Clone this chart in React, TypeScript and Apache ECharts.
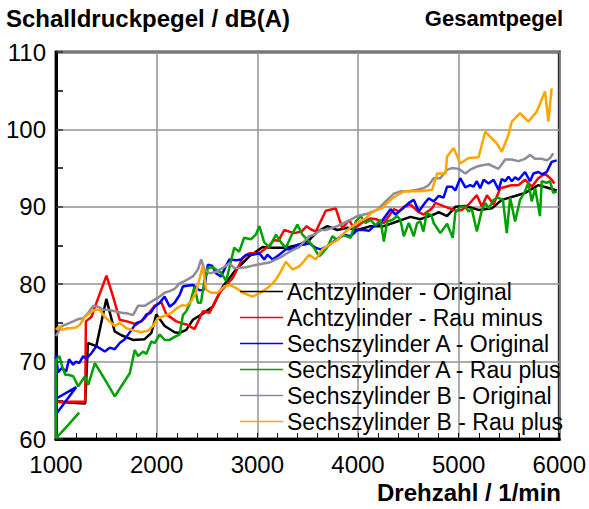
import React, { useEffect, useRef } from "react";
import * as echarts from "echarts";

const seriesNames = [
  "Achtzylinder - Original",
  "Achtzylinder - Rau minus",
  "Sechszylinder A - Original",
  "Sechszylinder A - Rau plus",
  "Sechszylinder B - Original",
  "Sechszylinder B - Rau plus",
];

const seriesColors = ["#000000", "#ff0000", "#0000ff", "#00a000", "#8c8c9a", "#ffa500"];

const xTicks = [1000, 2000, 3000, 4000, 5000, 6000];
const yTicks = [60, 70, 80, 90, 100, 110];

const achtOriginal = [
  [1000, 64.8], [1290, 64.6], [1317, 72.4], [1400, 72.0], [1500, 78.1], [1583, 73.9], [1650, 73.4],
  [1765, 72.8], [1880, 72.9], [1947, 73.7], [1997, 76.1], [2080, 74.6], [2178, 73.8], [2228, 73.7],
  [2294, 74.1], [2360, 75.4], [2459, 76.2], [2558, 77.1], [2657, 79.7], [2789, 81.9], [2921, 83.6],
  [3053, 84.8], [3152, 84.7], [3284, 84.7], [3416, 85.1], [3515, 85.7], [3597, 86.8], [3696, 87.5],
  [3795, 87.0], [3894, 87.3], [3993, 87.0], [4126, 87.5], [4257, 87.5], [4389, 88.1], [4521, 88.7],
  [4620, 88.4], [4752, 89.0], [4802, 89.3], [4885, 88.8], [4967, 90.0], [5066, 90.1], [5198, 89.6],
  [5330, 89.8], [5429, 90.9], [5561, 91.4], [5660, 91.8], [5792, 92.8], [5875, 92.5], [5974, 92.1],
];

const achtRauMinus = [
  [1000, 64.8], [1290, 64.8], [1297, 75.2], [1353, 75.8], [1402, 77.6], [1501, 81.1], [1567, 78.4],
  [1633, 75.4], [1733, 75.1], [1799, 74.8], [1881, 75.6], [1980, 77.2], [2046, 77.7], [2096, 76.1],
  [2195, 75.2], [2262, 74.9], [2300, 74.8], [2376, 74.2], [2459, 76.5], [2525, 76.3], [2624, 78.9],
  [2756, 80.8], [2855, 83.4], [2921, 84.0], [3020, 84.0], [3119, 85.0], [3168, 85.7], [3210, 85.6],
  [3267, 87.0], [3366, 86.6], [3440, 86.8], [3490, 87.5], [3531, 87.1], [3581, 86.8], [3680, 89.5],
  [3779, 89.8], [3845, 87.2], [3911, 88.3], [3960, 87.2], [4059, 88.1], [4125, 88.5], [4180, 88.4],
  [4257, 87.9], [4356, 89.7], [4406, 89.4], [4455, 90.0], [4521, 90.3], [4604, 89.3], [4653, 89.0],
  [4736, 89.8], [4769, 90.5], [4870, 90.0], [4967, 89.5], [5030, 89.6], [5099, 90.3], [5181, 91.5],
  [5231, 90.0], [5281, 91.5], [5347, 90.3], [5413, 92.4], [5528, 92.8], [5594, 92.8], [5660, 93.5],
  [5726, 92.6], [5792, 93.7], [5858, 94.3], [5924, 93.5], [5951, 93.0],
];

const sechsAOriginal = [
  [1000, 65.2], [1200, 66.7], [1000, 63.2], [1000, 70.9], [1020, 68.6], [1060, 69.2], [1100, 68.7],
  [1130, 70.3], [1170, 69.6], [1200, 70.0], [1230, 69.8], [1270, 70.7], [1300, 70.4], [1353, 71.1],
  [1402, 72.0], [1484, 71.3], [1534, 71.8], [1583, 71.6], [1633, 72.4], [1683, 72.9], [1750, 74.1],
  [1799, 75.0], [1850, 75.2], [1898, 76.1], [1940, 76.3], [1980, 77.1], [2030, 77.6], [2079, 78.4],
  [2129, 77.1], [2178, 77.6], [2228, 78.6], [2261, 79.7], [2300, 79.8], [2360, 79.9], [2426, 79.2],
  [2470, 79.3], [2508, 82.5], [2550, 82.4], [2591, 81.4], [2640, 81.0], [2690, 82.4], [2723, 83.2],
  [2790, 83.1], [2840, 83.2], [2888, 83.8], [2953, 83.8], [3020, 84.0], [3069, 83.2], [3100, 83.8],
  [3152, 83.2], [3218, 83.8], [3284, 84.5], [3340, 84.5], [3399, 85.1], [3460, 85.1], [3515, 85.3],
  [3581, 84.7], [3630, 84.5], [3696, 84.9], [3779, 85.7], [3861, 86.4], [3927, 86.2], [3993, 87.0],
  [4059, 87.0], [4108, 86.9], [4158, 87.5], [4224, 87.9], [4274, 88.8], [4323, 89.7], [4373, 89.0],
  [4439, 89.7], [4505, 90.5], [4554, 90.9], [4604, 89.4], [4653, 90.3], [4703, 91.1], [4752, 90.7],
  [4802, 91.4], [4850, 91.2], [4885, 92.6], [4935, 92.6], [4967, 92.1], [5016, 93.7], [5066, 92.5],
  [5115, 92.8], [5148, 92.6], [5181, 93.3], [5214, 92.4], [5248, 93.5], [5297, 93.0], [5347, 93.5],
  [5396, 92.2], [5429, 93.6], [5462, 93.3], [5495, 93.9], [5528, 93.3], [5561, 93.8], [5594, 93.5],
  [5660, 94.5], [5709, 93.3], [5743, 94.3], [5792, 94.5], [5830, 94.2], [5875, 94.5], [5924, 95.8],
  [5974, 96.0],
];

const sechsARauPlus = [
  [1230, 63.4], [1120, 61.8], [1000, 60.1], [1000, 70.2], [1035, 70.7], [1060, 69.4], [1092, 68.3],
  [1122, 68.3], [1171, 68.1], [1221, 66.8], [1287, 68.1], [1320, 67.0], [1386, 69.8], [1485, 67.7],
  [1584, 65.5], [1683, 67.5], [1733, 68.5], [1782, 71.5], [1815, 70.7], [1864, 71.3], [1898, 71.0],
  [1947, 72.6], [1980, 72.4], [2030, 73.5], [2079, 72.8], [2129, 72.8], [2178, 73.2], [2228, 73.5],
  [2261, 76.0], [2294, 76.5], [2330, 77.5], [2376, 79.7], [2410, 77.6], [2440, 77.6], [2475, 80.5],
  [2508, 82.1], [2558, 82.2], [2600, 81.8], [2640, 81.5], [2690, 80.4], [2720, 82.0], [2770, 84.7],
  [2820, 84.2], [2869, 86.0], [2935, 85.8], [2985, 86.4], [3020, 87.5], [3069, 85.4], [3119, 84.8],
  [3186, 86.4], [3235, 85.4], [3284, 84.7], [3335, 86.2], [3398, 87.7], [3448, 86.4], [3515, 85.5],
  [3564, 84.7], [3614, 83.6], [3660, 84.2], [3700, 84.9], [3746, 86.2], [3795, 85.7], [3845, 86.4],
  [3927, 86.0], [3977, 88.1], [4026, 88.8], [4075, 87.9], [4125, 88.3], [4175, 87.6], [4224, 88.3],
  [4257, 85.5], [4290, 88.1], [4340, 88.3], [4389, 88.8], [4422, 88.3], [4455, 86.2], [4505, 87.9],
  [4554, 86.2], [4587, 87.9], [4620, 88.1], [4650, 86.8], [4683, 89.2], [4730, 88.9], [4752, 87.9],
  [4818, 86.6], [4885, 87.8], [4941, 86.0], [4967, 89.2], [5016, 90.0], [5066, 90.0], [5099, 89.4],
  [5131, 89.7], [5181, 86.8], [5231, 89.6], [5265, 90.5], [5300, 89.8], [5347, 90.9], [5390, 91.2],
  [5440, 90.9], [5478, 86.6], [5511, 91.2], [5561, 88.1], [5610, 90.9], [5660, 92.0], [5693, 93.1],
  [5726, 90.7], [5760, 92.4], [5808, 88.8], [5825, 93.3], [5875, 93.1], [5908, 93.3], [5940, 91.8],
  [5974, 92.0],
];

const sechsBOriginal = [
  [1000, 73.3], [1030, 74.0], [1060, 74.6], [1100, 74.8], [1171, 75.2], [1221, 75.5], [1270, 75.6],
  [1320, 76.3], [1370, 77.2], [1418, 77.1], [1468, 76.7], [1517, 76.7], [1584, 76.5], [1650, 76.3],
  [1716, 76.2], [1765, 76.0], [1815, 77.2], [1881, 77.2], [1930, 77.6], [1980, 78.0], [2030, 78.4],
  [2079, 78.9], [2129, 79.1], [2178, 79.4], [2228, 80.1], [2277, 80.4], [2360, 81.0], [2410, 81.9],
  [2442, 83.2], [2475, 81.9], [2525, 81.4], [2591, 81.6], [2657, 82.1], [2723, 82.7], [2770, 82.1],
  [2822, 82.1], [2888, 82.2], [2953, 82.4], [3035, 82.6], [3119, 82.8], [3186, 83.2], [3235, 83.5],
  [3284, 83.9], [3350, 84.4], [3416, 84.8], [3465, 85.5], [3515, 86.2], [3564, 86.4], [3630, 87.0],
  [3680, 87.0], [3795, 87.5], [3894, 88.1], [3993, 88.8], [4092, 89.1], [4191, 89.6], [4290, 90.9],
  [4356, 91.7], [4422, 92.0], [4505, 92.0], [4587, 92.2], [4650, 92.4], [4703, 92.8], [4752, 93.7],
  [4818, 93.7], [4885, 94.8], [4935, 95.0], [5000, 94.9], [5066, 94.3], [5115, 94.8], [5181, 95.2],
  [5247, 95.4], [5297, 95.5], [5347, 95.2], [5396, 94.9], [5462, 96.1], [5528, 96.1], [5594, 95.9],
  [5660, 96.2], [5709, 96.7], [5758, 96.2], [5825, 96.2], [5875, 96.0], [5908, 96.3], [5940, 96.9],
];

const sechsBRauPlus = [
  [1000, 74.1], [1033, 74.6], [1066, 74.1], [1110, 74.3], [1150, 74.3], [1200, 74.4], [1240, 74.8],
  [1287, 75.8], [1336, 76.3], [1386, 76.7], [1435, 76.7], [1484, 75.8], [1534, 75.2], [1584, 74.6],
  [1633, 75.0], [1699, 74.3], [1780, 74.0], [1847, 73.8], [1914, 74.0], [1963, 74.6], [2012, 75.6],
  [2079, 75.9], [2145, 76.3], [2211, 77.0], [2260, 77.3], [2294, 77.2], [2343, 77.8], [2390, 78.9],
  [2424, 80.6], [2459, 82.4], [2490, 79.3], [2541, 78.9], [2607, 78.9], [2670, 79.7], [2723, 79.9],
  [2789, 79.5], [2855, 78.9], [2953, 78.4], [3035, 78.9], [3119, 79.7], [3186, 80.6], [3235, 81.7],
  [3284, 82.9], [3350, 81.9], [3416, 82.3], [3465, 83.0], [3515, 83.8], [3581, 83.2], [3647, 84.5],
  [3713, 85.1], [3795, 85.7], [3845, 86.4], [3895, 87.0], [3944, 87.5], [4010, 88.1], [4075, 88.5],
  [4125, 89.1], [4175, 89.6], [4240, 89.8], [4290, 90.5], [4340, 91.1], [4389, 91.5], [4455, 92.0],
  [4538, 92.0], [4620, 92.0], [4736, 92.2], [4786, 94.3], [4870, 94.3], [4885, 96.5], [4951, 97.6],
  [5016, 95.6], [5099, 96.3], [5198, 96.4], [5264, 99.7], [5379, 98.2], [5429, 97.1], [5495, 99.3],
  [5528, 101.0], [5610, 102.1], [5693, 101.0], [5776, 102.3], [5858, 104.9], [5891, 101.0],
  [5924, 105.3],
];

const seriesData = [achtOriginal, achtRauMinus, sechsAOriginal, sechsARauPlus, sechsBOriginal, sechsBRauPlus];

const FONT = "'Liberation Sans', Arial, Helvetica, sans-serif";

export default function App() {
  const ref = useRef<HTMLDivElement>(null);

  useEffect(() => {
    document.body.style.margin = "0";
    if (!ref.current) return;
    const chart = echarts.init(ref.current, undefined, { renderer: "svg" });
    chart.setOption({
      animation: false,
      backgroundColor: "#ffffff",
      grid: {
        left: 56,
        right: 27,
        top: 52,
        bottom: 70,
        show: true,
        borderColor: "#2e2e2e",
        borderWidth: 3,
        backgroundColor: "transparent",
      },
      graphic: [
        {
          type: "text",
          left: 6,
          top: 6,
          style: { text: "Schalldruckpegel / dB(A)", font: `bold 24px ${FONT}`, fill: "#000" },
        },
        {
          type: "text",
          right: 26,
          top: 7,
          style: { text: "Gesamtpegel", font: `bold 22px ${FONT}`, fill: "#000" },
        },
        {
          type: "text",
          right: 28,
          top: 480,
          style: { text: "Drehzahl / 1/min", font: `bold 24px ${FONT}`, fill: "#000" },
        },
      ],
      legend: {
        orient: "vertical",
        left: 240,
        top: 280,
        padding: 0,
        itemWidth: 43,
        itemHeight: 1.5,
        itemGap: 3,
        icon: "rect",
        data: seriesNames,
        textStyle: { fontFamily: FONT, fontSize: 23, color: "#000", padding: [0, 0, 0, -1] },
      },
      xAxis: {
        type: "value",
        min: xTicks[0],
        max: xTicks[xTicks.length - 1],
        interval: 1000,
        axisLine: { show: true, onZero: false, lineStyle: { color: "#000", width: 3 } },
        axisTick: { show: true, inside: true, length: 6, lineStyle: { color: "#000", width: 1 } },
        minorTick: { show: true, splitNumber: 5, length: 6, lineStyle: { color: "#000", width: 1 } },
        splitLine: { show: true, lineStyle: { color: "#939393", width: 1.5 } },
        axisLabel: {
          fontFamily: FONT,
          fontSize: 24,
          color: "#000",
          margin: 13,
          formatter: (v: number) => String(v),
        },
      },
      yAxis: {
        type: "value",
        min: yTicks[0],
        max: yTicks[yTicks.length - 1],
        interval: 10,
        axisLine: { show: true, onZero: false, lineStyle: { color: "#000", width: 3 } },
        axisTick: { show: true, inside: true, length: 7, lineStyle: { color: "#333", width: 1.5 } },
        minorTick: { show: true, splitNumber: 2, length: 7, lineStyle: { color: "#000", width: 1.5 } },
        splitLine: { show: true, lineStyle: { color: "#939393", width: 1.5 } },
        axisLabel: {
          fontFamily: FONT,
          fontSize: 24,
          color: "#000",
          margin: 10,
          formatter: (v: number) => String(v),
        },
      },
      series: seriesNames.map((name, i) => ({
        name,
        type: "line",
        data: seriesData[i],
        showSymbol: false,
        symbol: "none",
        clip: true,
        color: seriesColors[i],
        lineStyle: { color: seriesColors[i], width: 2.5 },
        z: 2,
      })),
    });
    return () => chart.dispose();
  }, []);

  return (
    <div
      ref={ref}
      style={{ position: "absolute", left: 0, top: 0, width: 589, height: 509, background: "#fff" }}
    />
  );
}
